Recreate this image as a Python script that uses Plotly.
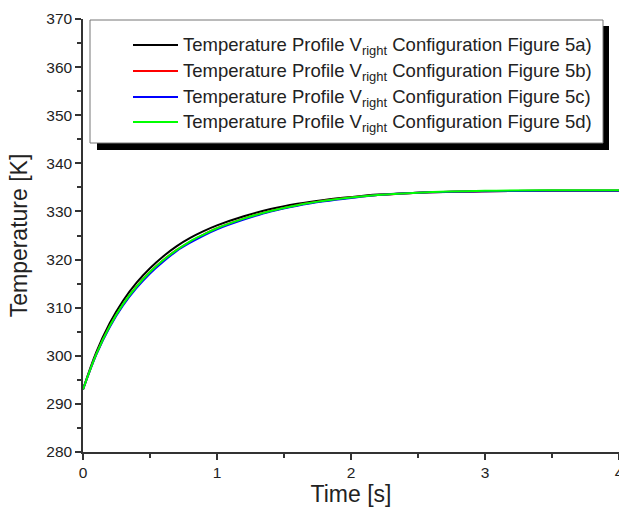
import plotly.graph_objects as go

time_s = [0.0, 0.1, 0.2, 0.3, 0.4, 0.5, 0.6, 0.7, 0.8, 0.9, 1.0, 1.2, 1.4, 1.6, 1.8, 2.0, 2.2, 2.5, 3.0, 3.5, 4.0]
temp_5a = [293.0, 300.8, 306.8, 311.5, 315.2, 318.2, 320.7, 322.8, 324.5, 325.9, 327.1, 329.0, 330.5, 331.6, 332.4, 333.0, 333.5, 333.9, 334.2, 334.3, 334.3]
temp_5b = [293.0, 300.4, 306.2, 310.7, 314.4, 317.4, 319.9, 322.0, 323.7, 325.2, 326.5, 328.5, 330.1, 331.3, 332.2, 332.9, 333.4, 333.9, 334.2, 334.3, 334.3]
temp_5c = [293.0, 300.3, 306.0, 310.5, 314.1, 317.1, 319.6, 321.8, 323.5, 325.0, 326.3, 328.3, 330.0, 331.2, 332.1, 332.8, 333.4, 333.9, 334.2, 334.3, 334.3]
temp_5d = [293.0, 300.4, 306.2, 310.8, 314.4, 317.4, 319.9, 322.0, 323.8, 325.2, 326.5, 328.5, 330.1, 331.3, 332.2, 332.9, 333.4, 333.9, 334.3, 334.4, 334.4]

series_names = ["5a)", "5b)", "5c)", "5d)"]
series_values = [temp_5a, temp_5b, temp_5c, temp_5d]
series_colors = ["#000000", "#ff0000", "#0000ff", "#00ff00"]

W, H = 619, 520
L, R, T, B = 83, 0, 19, 68
pw, ph = W - L - R, H - T - B

def px(x):
    return (x - L) / pw

def py(y):
    return 1 - (y - T) / ph

fig = go.Figure()
for name, vals, col in zip(series_names, series_values, series_colors):
    fig.add_trace(go.Scatter(
        x=time_s, y=vals, mode="lines", line=dict(color=col, width=2, shape="spline", smoothing=1.0),
        name="Temperature Profile V<sub>right</sub> Configuration Figure " + name,
        showlegend=False, hoverinfo="skip"))

font = "Liberation Sans, Arial, sans-serif"
txtcol = "#222222"

shapes = [
    dict(type="rect", xref="paper", yref="paper", x0=px(97), x1=px(609), y0=py(150), y1=py(26),
         fillcolor="#000000", line=dict(width=0), layer="above"),
    dict(type="rect", xref="paper", yref="paper", x0=px(90), x1=px(603), y0=py(143), y1=py(20),
         fillcolor="#ffffff", line=dict(color="#777777", width=1), layer="above"),
]
annotations = []
rows = [45, 71, 97, 122]
for name, col, ry in zip(series_names, series_colors, rows):
    shapes.append(dict(type="line", xref="paper", yref="paper", x0=px(133), x1=px(178),
                       y0=py(ry), y1=py(ry), line=dict(color=col, width=2), layer="above"))
    annotations.append(dict(xref="paper", yref="paper", x=px(181), y=py(ry + 1), xanchor="left",
                            yanchor="middle", showarrow=False,
                            text="Temperature Profile V<sub>right</sub> Configuration Figure " + name,
                            font=dict(family=font, size=18.5, color=txtcol)))

axis_common = dict(showgrid=False, zeroline=False, showline=True, linecolor="#333333", linewidth=1.5,
                   ticks="outside", ticklen=6, tickwidth=1.5, tickcolor="#333333",
                   tickfont=dict(family=font, size=15.5, color=txtcol), mirror=False,
                   ticklabeloverflow="allow", automargin=False)

fig.update_layout(
    width=W, height=H, margin=dict(l=L, r=R, t=T, b=B),
    paper_bgcolor="white", plot_bgcolor="white",
    shapes=shapes, annotations=annotations,
    xaxis=dict(range=[0, 4], dtick=1, title=dict(text="Time [s]", font=dict(family=font, size=23, color=txtcol), standoff=5),
               minor=dict(dtick=0.5, ticks="outside", ticklen=4, tickwidth=1.5, tickcolor="#333333"), **axis_common),
    yaxis=dict(range=[280, 370], dtick=10, title=dict(text="Temperature [K]", font=dict(family=font, size=23, color=txtcol), standoff=12),
               minor=dict(dtick=5, ticks="outside", ticklen=4, tickwidth=1.5, tickcolor="#333333"), **axis_common),
)

fig.write_html("out.html")
